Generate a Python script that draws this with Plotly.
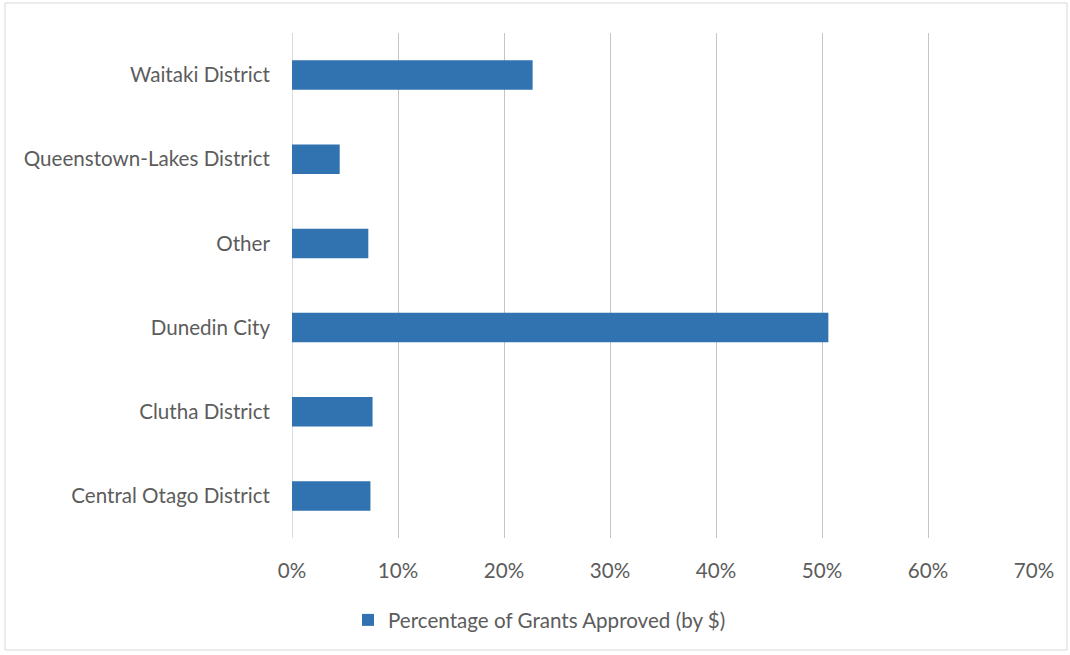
import plotly.graph_objects as go

# Grant share by district (fraction of approved $), listed bottom to top
districts = [
    "Central Otago District",
    "Clutha District",
    "Dunedin City",
    "Other",
    "Queenstown-Lakes District",
    "Waitaki District",
]
share_by_value = [0.074, 0.076, 0.506, 0.072, 0.045, 0.227]
tick_values = [0, 0.1, 0.2, 0.3, 0.4, 0.5, 0.6, 0.7]
tick_labels = ["0%", "10%", "20%", "30%", "40%", "50%", "60%", "70%"]
series_name = "Percentage of Grants Approved (by $)"

W, H = 1070, 655
L, R, T, B = 292, 36, 33, 117
pw, ph = W - L - R, H - T - B

FONT = "Lato, Open Sans, sans-serif"
FS = 20.6
TEXT = "#5c5c5c"
BAR = "#3172b0"

fig = go.Figure(
    go.Bar(
        y=districts,
        x=share_by_value,
        orientation="h",
        name=series_name,
        marker=dict(color=BAR, line=dict(width=0)),
        width=0.35,
        showlegend=True,
    )
)

fig.update_layout(
    width=W,
    height=H,
    margin=dict(l=L, r=R, t=T, b=B),
    paper_bgcolor="white",
    plot_bgcolor="white",
    font=dict(family=FONT, size=FS, color=TEXT),
    legend=dict(
        orientation="h",
        x=(348 - L) / pw,
        xanchor="left",
        y=(H - B - 620) / ph,
        yanchor="middle",
        font=dict(size=FS, color=TEXT),
        itemwidth=30,
        bgcolor="rgba(0,0,0,0)",
    ),
    xaxis=dict(
        range=[0, 0.7],
        tickvals=tick_values,
        ticktext=tick_labels,
        showgrid=True,
        gridcolor="#c4c4c4",
        gridwidth=1,
        zeroline=False,
        showline=False,
        ticks="",
        ticklabelstandoff=18,
        tickfont=dict(size=FS, color=TEXT),
        fixedrange=True,
    ),
    yaxis=dict(
        categoryorder="array",
        categoryarray=districts,
        showgrid=False,
        zeroline=False,
        showline=False,
        ticks="",
        ticklabelstandoff=21,
        tickfont=dict(size=FS, color=TEXT),
        fixedrange=True,
    ),
    shapes=[
        # outer chart frame
        dict(
            type="rect",
            xref="paper",
            yref="paper",
            x0=(5 - L) / pw,
            x1=(1067 - L) / pw,
            y0=(H - B - 650) / ph,
            y1=(H - B - 3) / ph,
            line=dict(color="#d8d8d8", width=1),
            layer="below",
        ),
        # vertical axis line at 0%
        dict(
            type="line",
            xref="x",
            yref="paper",
            x0=0,
            x1=0,
            y0=0,
            y1=1,
            line=dict(color="#b8b8b8", width=1),
            layer="below",
        ),
    ],
)

fig.write_html("out.html", config={"displayModeBar": False})
